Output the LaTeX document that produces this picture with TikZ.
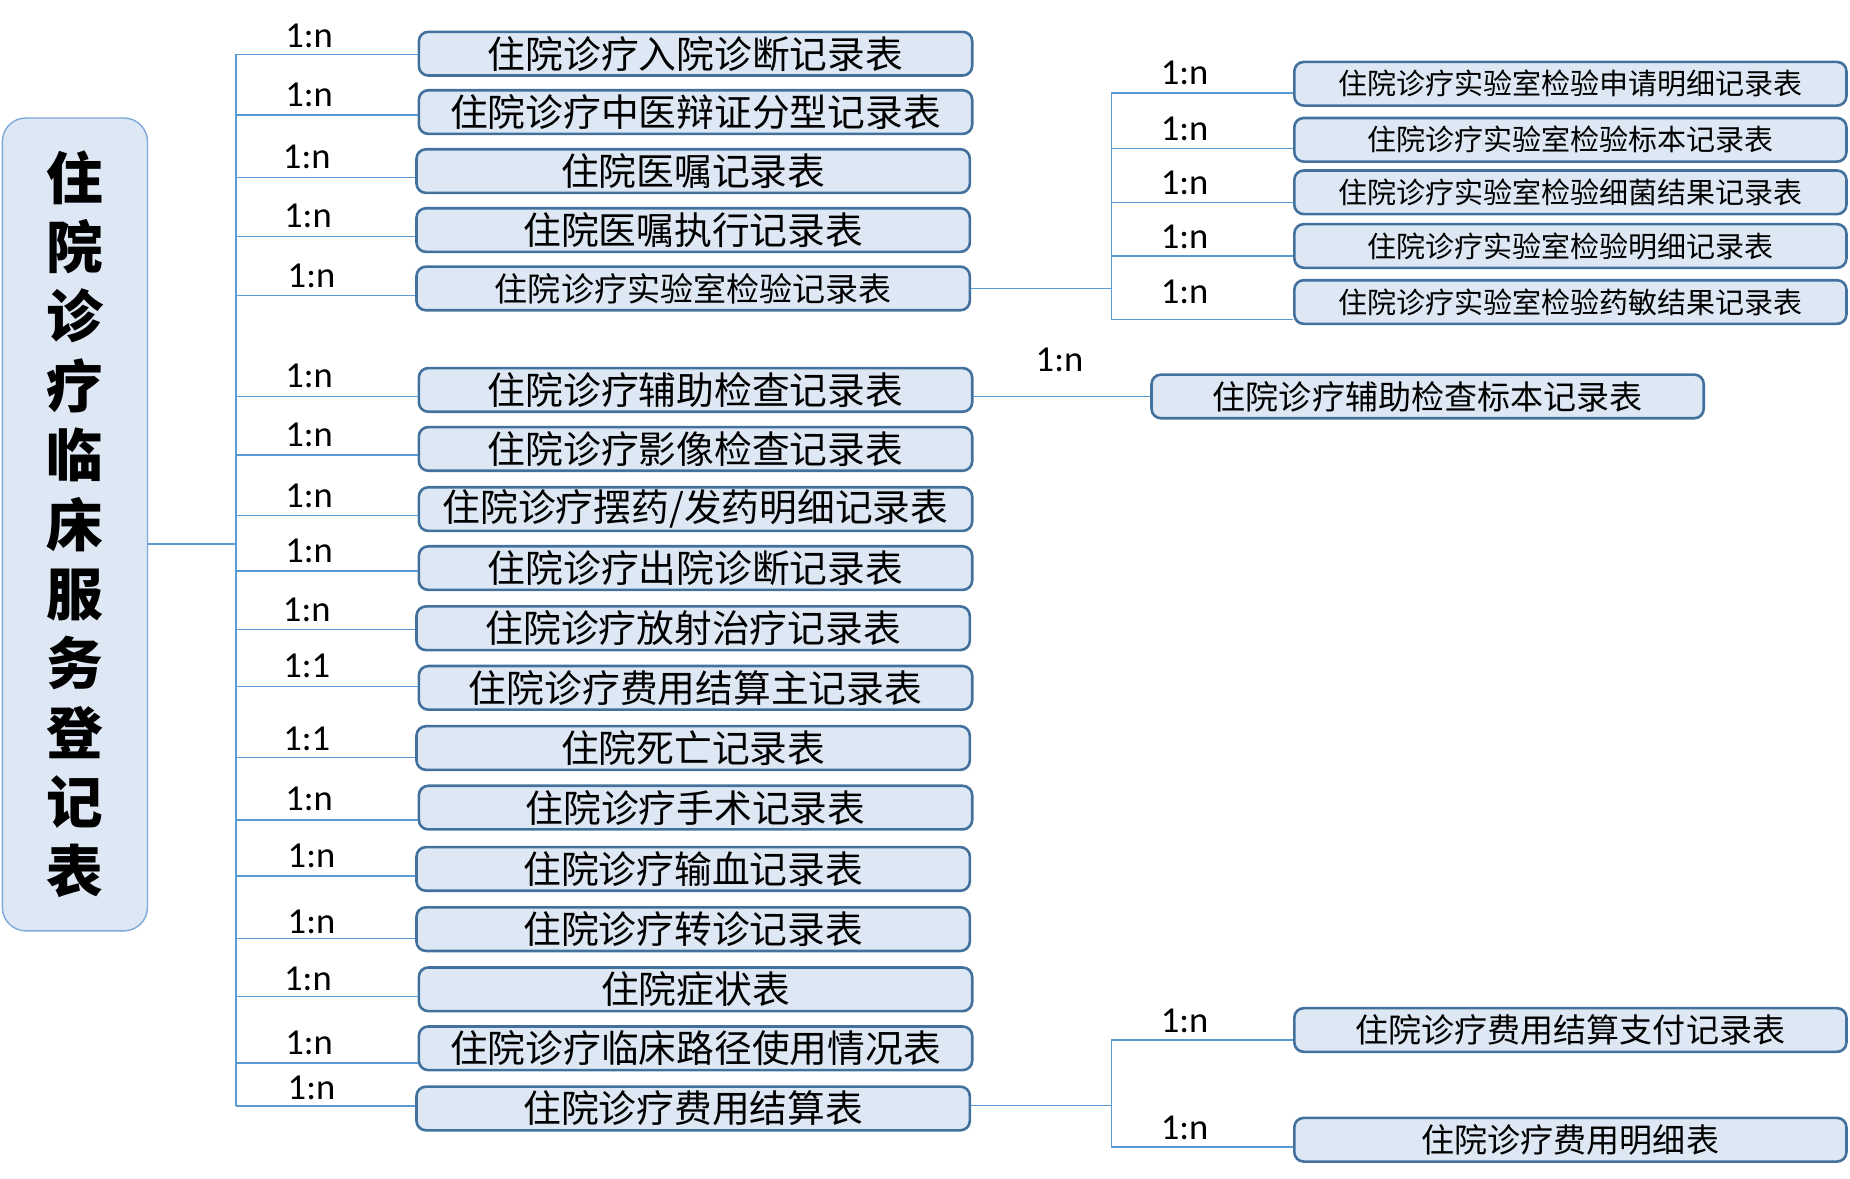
\documentclass[tikz,border=0pt]{standalone}
\usepackage{fontspec}
\newfontfamily\cjk{Noto Sans CJK SC}
\newfontfamily\lab{Carlito}
\definecolor{boxfill}{HTML}{DEE8F4}
\definecolor{boxline}{HTML}{41719C}
\definecolor{rootline}{HTML}{7EA9DA}
\definecolor{wirecol}{HTML}{5B9BD5}
\begin{document}
\begin{tikzpicture}[x=0.5pt,y=-0.5pt,
  tbl/.style={draw=boxline, line width=1.1pt, fill=boxfill, rounded corners=4pt,
    minimum height=18.5pt, inner sep=0pt},
  mid/.style={tbl, minimum width=234.5pt, font=\cjk\fontsize{16}{16}\selectfont},
  midsmall/.style={mid, font=\cjk\fontsize{14}{14}\selectfont},
  side/.style={tbl, minimum width=234pt, font=\cjk\fontsize{12.3}{13}\selectfont},
  sidebig/.style={side, font=\cjk\fontsize{14}{14}\selectfont},
  root/.style={draw=rootline, line width=0.6pt, fill=boxfill, rounded corners=10pt,
    minimum width=61.5pt, minimum height=344.5pt, inner sep=0pt, align=center,
    font=\cjk\bfseries\fontsize{24}{29.4}\selectfont},
  card/.style={font=\lab\fontsize{15.5}{16}\selectfont, inner sep=0pt},
  wire/.style={draw=wirecol, line width=0.6pt}
]
\useasboundingbox (0,0) rectangle (1568,999);

% root table
\node[root] (root) at (63.5,444.5) {住\\院\\诊\\疗\\临\\床\\服\\务\\登\\记\\表};

% child tables
\node[mid] (m1) at (589.5,45.5) {住院诊疗入院诊断记录表};
\node[mid] (m2) at (589.5,95) {住院诊疗中医辩证分型记录表};
\node[mid] (m3) at (587.5,145) {住院医嘱记录表};
\node[mid] (m4) at (587.5,195) {住院医嘱执行记录表};
\node[midsmall] (m5) at (587.5,244.5) {住院诊疗实验室检验记录表};
\node[mid] (m6) at (589.5,330.5) {住院诊疗辅助检查记录表};
\node[mid] (m7) at (589.5,380.5) {住院诊疗影像检查记录表};
\node[mid] (m8) at (589.5,431.5) {住院诊疗摆药/发药明细记录表};
\node[mid] (m9) at (589.5,481.5) {住院诊疗出院诊断记录表};
\node[mid] (m10) at (587.5,532.5) {住院诊疗放射治疗记录表};
\node[mid] (m11) at (589.5,583) {住院诊疗费用结算主记录表};
\node[mid] (m12) at (587.5,634) {住院死亡记录表};
\node[mid] (m13) at (589.5,684.5) {住院诊疗手术记录表};
\node[mid] (m14) at (587.5,736.5) {住院诊疗输血记录表};
\node[mid] (m15) at (587.5,787.5) {住院诊疗转诊记录表};
\node[mid] (m16) at (589.5,838.5) {住院症状表};
\node[mid] (m17) at (589.5,888.5) {住院诊疗临床路径使用情况表};
\node[mid] (m18) at (587.5,939.5) {住院诊疗费用结算表};

% cardinality labels of the first level
\foreach \i/\x/\y/\t in {1/262/30/1:n, 2/262/80/1:n, 3/260/133/1:n, 4/261/183/1:n,
    5/264/234/1:n, 6/262/319/1:n, 7/262/369/1:n, 8/262/420/1:n, 9/262/467/1:n,
    10/260/517/1:n, 11/260/564/1:1, 12/260/626/1:1, 13/262/677/1:n, 14/264/725/1:n,
    15/264/781/1:n, 16/261/830/1:n, 17/262/884/1:n, 18/264/922/1:n}
  \node[card] (c\i) at (\x,\y) {\t};

% first-level bus
\coordinate (rj) at (200,461);
\draw[wire] (root.east |- rj) -- (rj);
\coordinate (tTop) at (200,46);
\coordinate (tBot) at (200,937.5);
\draw[wire] (tTop) -- (tBot);
\foreach \i/\y in {1/46, 2/97.5, 3/150.6, 4/200.6, 5/250.6, 6/336, 7/385.7, 8/437,
    9/484, 10/533.6, 11/581.8, 12/642, 13/695, 14/742.5, 15/795.3, 16/844.4,
    17/901, 18/937.5} {
  \coordinate (b\i) at (200,\y);
  \draw[wire] (b\i) -- (b\i -| m\i.west);
}

% laboratory sub-tables
\node[side] (r1) at (1331,71) {住院诊疗实验室检验申请明细记录表};
\node[side] (r2) at (1331,118.5) {住院诊疗实验室检验标本记录表};
\node[side] (r3) at (1331,163) {住院诊疗实验室检验细菌结果记录表};
\node[side] (r4) at (1331,208.5) {住院诊疗实验室检验明细记录表};
\node[side] (r5) at (1331,256) {住院诊疗实验室检验药敏结果记录表};
\coordinate (gA) at (942,244.5);
\draw[wire] (m5.east) -- (gA);
\coordinate (gAtop) at (942,79);
\coordinate (gAbot) at (942,271);
\draw[wire] (gAtop) -- (gAbot);
\foreach \i/\y/\ly in {1/79/62, 2/126/109, 3/171.5/155, 4/217/201, 5/271/247} {
  \coordinate (s\i) at (942,\y);
  \draw[wire] (s\i) -- (s\i -| r\i.west);
  \node[card] (d\i) at (1004,\ly) {1:n};
}

% auxiliary examination sub-table
\node[sidebig] (f1) at (1210,336) {住院诊疗辅助检查标本记录表};
\draw[wire] (m6.east |- f1.west) -- (f1.west);
\node[card] (e1) at (898,305) {1:n};

% settlement sub-tables
\node[sidebig] (g1) at (1331,873) {住院诊疗费用结算支付记录表};
\node[sidebig] (g2) at (1331,966) {住院诊疗费用明细表};
\coordinate (gB) at (942,937);
\draw[wire] (m18.east |- gB) -- (gB);
\coordinate (gBtop) at (942,881.5);
\coordinate (gBbot) at (942,972);
\draw[wire] (gBtop) -- (gBbot);
\draw[wire] (gBtop) -- (gBtop -| g1.west);
\draw[wire] (gBbot) -- (gBbot -| g2.west);
\node[card] (h1) at (1004,865) {1:n};
\node[card] (h2) at (1004,956) {1:n};
\end{tikzpicture}
\end{document}
